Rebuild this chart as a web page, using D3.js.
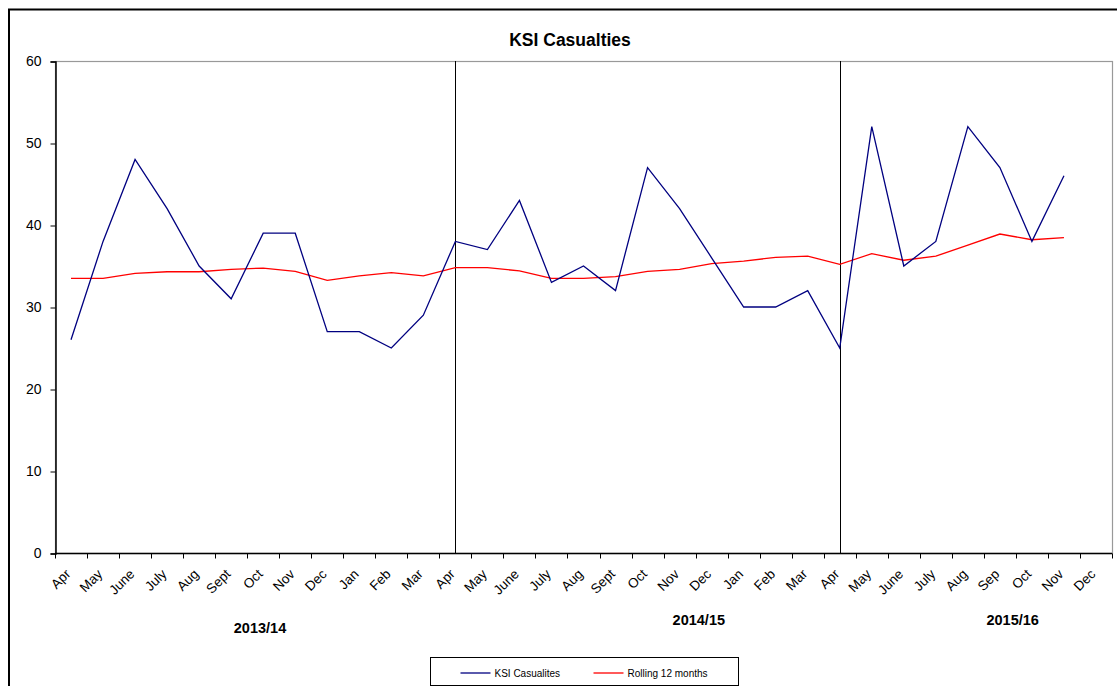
<!DOCTYPE html>
<html>
<head>
<meta charset="utf-8">
<script src="https://cdn.jsdelivr.net/npm/d3@7"></script>
<style>
  body { margin: 0; background: #fff; }
  svg { display: block; font-family: "Liberation Sans", Arial, sans-serif; }
</style>
</head>
<body>
<div id="chart"></div>
<script>
// month labels along the x axis (Apr 2013 .. Dec 2015)
const months = [
  'Apr', 'May', 'June', 'July', 'Aug', 'Sept', 'Oct', 'Nov', 'Dec', 'Jan', 'Feb', 'Mar',
  'Apr', 'May', 'June', 'July', 'Aug', 'Sept', 'Oct', 'Nov', 'Dec', 'Jan', 'Feb', 'Mar',
  'Apr', 'May', 'June', 'July', 'Aug', 'Sep', 'Oct', 'Nov', 'Dec'
];

// monthly KSI casualties (no value yet for Dec 2015)
const ksi = [
  26, 38, 48, 42, 35, 31, 39, 39, 27, 27, 25, 29,
  38, 37, 43, 33, 35, 32, 47, 42, 36, 30, 30, 32,
  25, 52, 35, 38, 52, 47, 38, 46
];

// rolling 12 month average
const rolling = [
  33.5, 33.5, 34.1, 34.3, 34.3, 34.6, 34.75, 34.35, 33.25, 33.8, 34.2, 33.8,
  34.8, 34.8, 34.4, 33.5, 33.5, 33.7, 34.35, 34.6, 35.3, 35.6, 36.05, 36.2,
  35.2, 36.5, 35.7, 36.2, 37.55, 38.9, 38.2, 38.45
];

// financial years and the month index where each one is labelled
const years = [
  { label: '2013/14', at: 6.4, dy: 8 },
  { label: '2014/15', at: 20.1, dy: 0 },
  { label: '2015/16', at: 29.9, dy: 0 }
];
// year boundaries (index of April) drawn as vertical lines
const yearStarts = [12, 24];

const yTicks = [0, 10, 20, 30, 40, 50, 60];

const width = 1117, height = 686;
const plot = { left: 55, top: 61, right: 1112, bottom: 553 };

const svg = d3.select('#chart')
  .append('svg')
  .attr('width', width)
  .attr('height', height);

// outer chart frame (runs off the right and bottom edges)
svg.append('rect')
  .attr('x', 9).attr('y', 9.5)
  .attr('width', 1200).attr('height', 800)
  .attr('fill', 'none')
  .attr('stroke', '#000')
  .attr('stroke-width', 2);

const x = d3.scaleBand()
  .domain(d3.range(months.length))
  .range([plot.left, plot.right])
  .paddingInner(0).paddingOuter(0);

const y = d3.scaleLinear()
  .domain([0, 60])
  .range([plot.bottom, plot.top]);

const cx = (i) => x(i) + x.bandwidth() / 2;

// plot area border
svg.append('rect')
  .attr('x', plot.left + 0.5).attr('y', plot.top + 0.5)
  .attr('width', plot.right - plot.left).attr('height', plot.bottom - plot.top)
  .attr('fill', 'none')
  .attr('stroke', '#999')
  .attr('stroke-width', 1.2);

// y axis
const yAxis = svg.append('g')
  .attr('transform', `translate(${plot.left + 0.5},0.5)`)
  .call(d3.axisLeft(y).tickValues(yTicks).tickSize(5).tickPadding(9));
yAxis.select('.domain').attr('stroke', '#000').attr('stroke-width', 1.5);
yAxis.selectAll('text').attr('font-size', 14).attr('fill', '#000')
  .attr('font-family', '"Liberation Sans", Arial, sans-serif');

// x axis: ticks sit on category boundaries, labels at category centres
const xAxis = svg.append('g')
  .attr('transform', `translate(0,${plot.bottom + 0.5})`);
xAxis.append('line')
  .attr('x1', plot.left).attr('x2', plot.right)
  .attr('stroke', '#000').attr('stroke-width', 1.5);
xAxis.selectAll('line.tick')
  .data(d3.range(months.length + 1))
  .enter()
  .append('line')
  .attr('class', 'tick')
  .attr('x1', (d) => Math.round(plot.left + d * x.bandwidth()) + 0.5)
  .attr('x2', (d) => Math.round(plot.left + d * x.bandwidth()) + 0.5)
  .attr('y1', 0).attr('y2', 5)
  .attr('stroke', '#000');
xAxis.selectAll('text')
  .data(months)
  .enter()
  .append('text')
  .attr('transform', (d, i) => `translate(${cx(i) - 3},${18}) rotate(-45)`)
  .attr('text-anchor', 'end')
  .attr('dy', '0.35em')
  .attr('font-size', 13.5)
  .attr('fill', '#000')
  .text((d) => d);

// year labels
svg.append('g')
  .selectAll('text')
  .data(years)
  .enter()
  .append('text')
  .attr('x', (d) => plot.left + d.at * x.bandwidth())
  .attr('y', (d) => 625 + d.dy)
  .attr('text-anchor', 'middle')
  .attr('font-size', 14.5)
  .attr('font-weight', 'bold')
  .attr('fill', '#000')
  .text((d) => d.label);

// year separators
svg.append('g')
  .selectAll('line')
  .data(yearStarts)
  .enter()
  .append('line')
  .attr('x1', (d) => Math.round(cx(d)) + 0.5)
  .attr('x2', (d) => Math.round(cx(d)) + 0.5)
  .attr('y1', plot.top)
  .attr('y2', plot.bottom)
  .attr('stroke', '#000')
  .attr('stroke-width', 1);

// series lines
const line = d3.line()
  .x((d, i) => cx(i))
  .y((d) => y(d));

svg.append('path')
  .datum(rolling)
  .attr('d', line)
  .attr('fill', 'none')
  .attr('stroke', '#ff0000')
  .attr('stroke-width', 1.3);

svg.append('path')
  .datum(ksi)
  .attr('d', line)
  .attr('fill', 'none')
  .attr('stroke', '#000080')
  .attr('stroke-width', 1.3);

// title
svg.append('text')
  .attr('x', 570)
  .attr('y', 46)
  .attr('text-anchor', 'middle')
  .attr('font-size', 17.5)
  .attr('font-weight', 'bold')
  .attr('fill', '#000')
  .text('KSI Casualties');

// legend
const legend = svg.append('g').attr('transform', 'translate(430.5,657.5)');
legend.append('rect')
  .attr('width', 308).attr('height', 28)
  .attr('fill', '#fff')
  .attr('stroke', '#000')
  .attr('stroke-width', 1);
const legendItems = [
  { name: 'KSI Casualites', color: '#000080', x: 30 },
  { name: 'Rolling 12 months', color: '#ff0000', x: 163 }
];
const li = legend.selectAll('g.item')
  .data(legendItems)
  .enter()
  .append('g')
  .attr('class', 'item')
  .attr('transform', (d) => `translate(${d.x},15.5)`);
li.append('line')
  .attr('x1', 0).attr('x2', 30)
  .attr('stroke', (d) => d.color)
  .attr('stroke-width', 1.3);
li.append('text')
  .attr('x', 34)
  .attr('dy', '0.35em')
  .attr('font-size', 10)
  .attr('fill', '#000')
  .text((d) => d.name);
</script>
</body>
</html>
